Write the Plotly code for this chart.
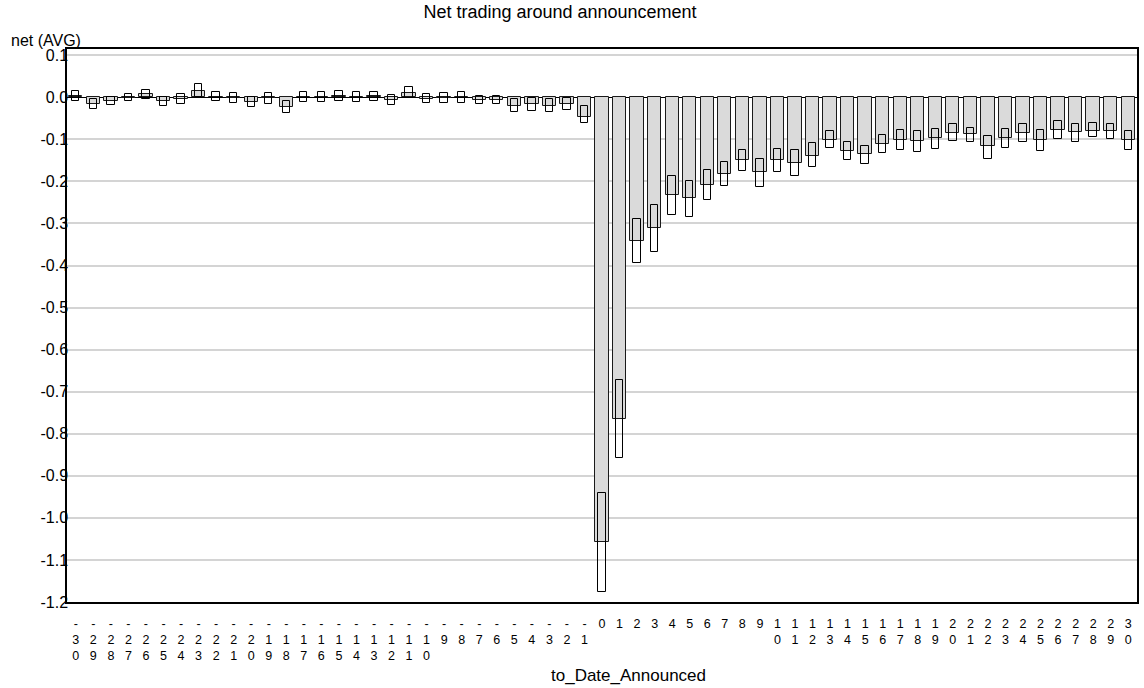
import plotly.graph_objects as go

days = [-30, -29, -28, -27, -26, -25, -24, -23, -22, -21, -20, -19, -18, -17, -16, -15,
        -14, -13, -12, -11, -10, -9, -8, -7, -6, -5, -4, -3, -2, -1,
        0, 1, 2, 3, 4, 5, 6, 7, 8, 9, 10, 11, 12, 13, 14, 15, 16, 17, 18, 19, 20,
        21, 22, 23, 24, 25, 26, 27, 28, 29, 30]
day_labels = ["-30", "-29", "-28", "-27", "-26", "-25", "-24", "-23", "-22", "-21", "-20",
              "-19", "-18", "-17", "-16", "-15", "-14", "-13", "-12", "-11", "-10",
              "-9", "-8", "-7", "-6", "-5", "-4", "-3", "-2", "-1",
              "0", "1", "2", "3", "4", "5", "6", "7", "8", "9", "10",
              "11", "12", "13", "14", "15", "16", "17", "18", "19", "20",
              "21", "22", "23", "24", "25", "26", "27", "28", "29", "30"]

net_avg = [0.003, -0.015, -0.008, -0.002, 0.007, -0.010, -0.004, 0.016, 0.001, -0.001,
           -0.011, -0.002, -0.022, 0.001, 0.001, 0.002, 0.000, 0.002, -0.006, 0.011,
           -0.003, -0.002, 0.000, -0.007, -0.007, -0.021, -0.017, -0.020, -0.016, -0.046,
           -1.057, -0.765, -0.342, -0.311, -0.232, -0.240, -0.209, -0.182, -0.149, -0.178,
           -0.150, -0.157, -0.139, -0.102, -0.128, -0.136, -0.112, -0.102, -0.105, -0.096,
           -0.086, -0.088, -0.117, -0.096, -0.086, -0.102, -0.078, -0.083, -0.079, -0.080,
           -0.102]

ci_upper = [0.014, -0.004, 0.001, 0.007, 0.017, 0.001, 0.007, 0.031, 0.013, 0.011,
            0.001, 0.011, -0.008, 0.013, 0.013, 0.015, 0.012, 0.013, 0.006, 0.024,
            0.008, 0.011, 0.013, 0.002, 0.002, -0.005, -0.002, -0.005, -0.001, -0.021,
            -0.940, -0.671, -0.290, -0.256, -0.186, -0.200, -0.173, -0.155, -0.125, -0.147,
            -0.123, -0.125, -0.109, -0.081, -0.107, -0.115, -0.090, -0.078, -0.080, -0.075,
            -0.064, -0.072, -0.091, -0.075, -0.064, -0.078, -0.056, -0.064, -0.062, -0.064,
            -0.080]

ci_lower = [-0.010, -0.029, -0.018, -0.010, -0.003, -0.021, -0.015, 0.000, -0.010, -0.013,
            -0.022, -0.015, -0.037, -0.011, -0.011, -0.010, -0.011, -0.008, -0.018, -0.002,
            -0.014, -0.014, -0.013, -0.017, -0.017, -0.034, -0.032, -0.034, -0.030, -0.062,
            -1.177, -0.858, -0.393, -0.367, -0.279, -0.284, -0.244, -0.210, -0.175, -0.213,
            -0.177, -0.188, -0.166, -0.121, -0.148, -0.159, -0.132, -0.126, -0.129, -0.122,
            -0.105, -0.107, -0.147, -0.120, -0.106, -0.127, -0.100, -0.106, -0.094, -0.100,
            -0.125]

y_ticks = [0.1, 0.0, -0.1, -0.2, -0.3, -0.4, -0.5, -0.6, -0.7, -0.8, -0.9, -1.0, -1.1, -1.2]
y_tick_labels = ["0.1", "0.0", "-0.1", "-0.2", "-0.3", "-0.4", "-0.5", "-0.6", "-0.7",
                 "-0.8", "-0.9", "-1.0", "-1.1", "-1.2"]

FONT = "Liberation Sans, Arial, Helvetica, sans-serif"

# tick labels written vertically, one character per line
x_tick_text = ["<br>".join(lab) for lab in day_labels]

fig = go.Figure()
fig.add_trace(go.Bar(
    x=days, y=net_avg, width=0.76,
    marker=dict(color="#dadada", line=dict(color="#1a1a1a", width=1)),
    showlegend=False, hoverinfo="x+y",
))
fig.add_trace(go.Bar(
    x=days, y=[u - l for u, l in zip(ci_upper, ci_lower)], base=ci_lower, width=0.42,
    marker=dict(color="rgba(0,0,0,0)", line=dict(color="#000000", width=1)),
    showlegend=False, hoverinfo="skip",
))

annotations = [
    dict(x=(9 - 67) / 1070, xref="paper", y=(602 - 40) / 553, yref="paper",
         text="net (AVG)", showarrow=False, xanchor="left", yanchor="middle",
         font=dict(family=FONT, size=16, color="#000000")),
    dict(x=(628 - 67) / 1070, xref="paper", y=(602 - 675) / 553, yref="paper",
         text="to_Date_Announced", showarrow=False, xanchor="center", yanchor="middle",
         font=dict(family=FONT, size=17, color="#000000")),
]

fig.update_layout(
    width=1144, height=688,
    margin=dict(l=67, r=7, t=49, b=86, autoexpand=False),
    paper_bgcolor="white", plot_bgcolor="white",
    barmode="overlay", bargap=0,
    font=dict(family=FONT, size=15, color="#000000"),
    title=dict(text="Net trading around announcement", x=560 / 1144, xanchor="center",
               y=1 - 12 / 688, yanchor="middle",
               font=dict(family=FONT, size=18, color="#000000")),
    annotations=annotations,
)
fig.update_xaxes(
    range=[-30.5, 30.5], tickmode="array", tickvals=days, ticktext=x_tick_text,
    tickangle=0, ticks="", showgrid=False, automargin=False,
    tickfont=dict(family=FONT, size=12.5, color="#000000"), ticklabelstandoff=9,
    showline=True, linecolor="#000000", linewidth=1.5, mirror=True, zeroline=False,
)
fig.update_yaxes(
    range=[-1.2, 0.1148], tickmode="array", tickvals=y_ticks, ticktext=y_tick_labels,
    ticks="", showgrid=True, gridcolor="#d4d4d4", gridwidth=1.5, automargin=False,
    showline=True, linecolor="#000000", linewidth=1.5, mirror=True,
    zeroline=True, zerolinecolor="#000000", zerolinewidth=1,
    ticklabelstandoff=-6, tickfont=dict(family=FONT, size=16, color="#000000"),
)

fig.write_html("out.html", config={"displayModeBar": False},
               post_script="document.body.style.margin='0px';")
